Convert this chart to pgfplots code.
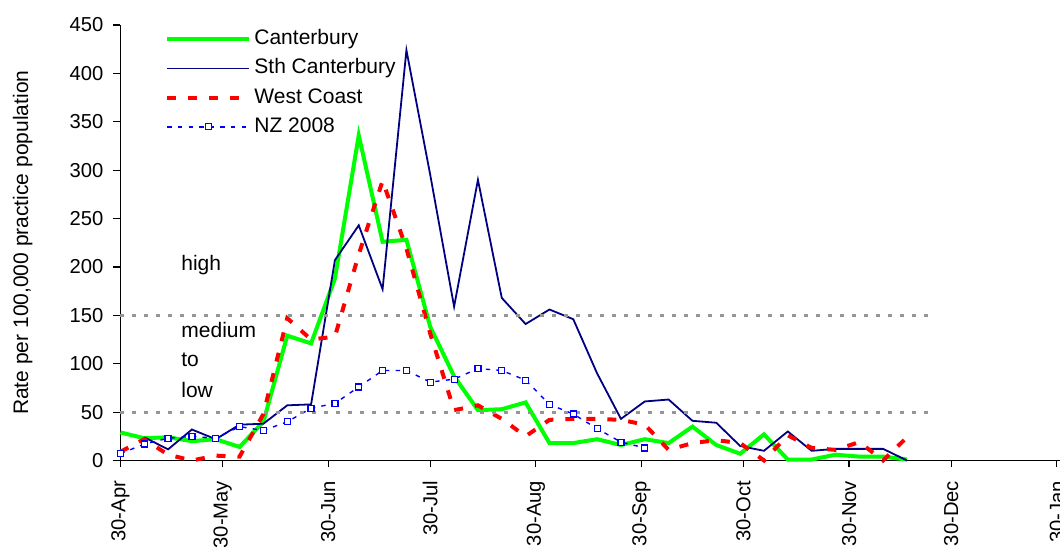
\documentclass[border=0pt]{standalone}
\usepackage{fontspec}
\setmainfont{Liberation Sans}
\usepackage{pgfplots}
\pgfplotsset{compat=1.18}
\definecolor{cgreen}{RGB}{0,255,0}
\definecolor{cnavy}{RGB}{0,0,128}
\definecolor{cred}{RGB}{255,0,0}
\definecolor{cblue}{RGB}{0,0,255}
\definecolor{cgray}{RGB}{150,150,150}
\begin{document}
\begin{tikzpicture}
\begin{axis}[
  scale only axis, width=469.9pt, height=217.75pt,
  xmin=0, xmax=276, ymin=0, ymax=450,
  axis x line=bottom, axis y line=left,
  axis line style={-, line width=0.6pt, black},
  tick align=outside, major tick length=3.5pt,
  tick style={black, line width=0.6pt},
  xtick={0,30,61,91,122,153,183,214,244,275},
  xticklabels={30-Apr,30-May,30-Jun,30-Jul,30-Aug,30-Sep,30-Oct,30-Nov,30-Dec,30-Jan},
  xticklabel style={rotate=90, anchor=east},
  xticklabel shift=3.2pt,
  yticklabel shift=1.5pt,
  ytick={0,50,...,450},
  font=\fontsize{10.5}{12.6}\selectfont,
  tick label style={font=\fontsize{10.1}{12}\selectfont},
  /pgf/number format/assume math mode=true,
  ylabel={Rate per 100,000 practice population},
  every axis y label/.style={at={(axis description cs:-0.104,0.5)}, rotate=90, anchor=center},
  clip=false,
  legend cell align=left,
  legend style={draw=none, fill=none, at={(axis cs:13.1,449)}, anchor=north west,
    inner sep=0pt, row sep=1.7pt, font=\fontsize{10.5}{12.6}\selectfont,
    nodes={inner sep=1.5pt, text height=7.7pt, text depth=2.2pt}},
  legend image code/.code={\draw[mark repeat=2,mark phase=2,#1] plot coordinates {(0pt,0pt) (20.5pt,0pt) (41pt,0pt)};},
]
\addplot[cgreen, line width=2pt, line join=miter] coordinates {
(0,29)(7,23)(14,24)(21,20)(28,22)(35,14)(42,40)(49,129)(56,121)(63,188)(70,336)(77,226)(84,228)(91,138)(98,87)(105,52)(112,53)(119,60)(126,18)(133,18)(140,22)(147,16)(154,22)(161,18)(168,35)(175,16)(182,7)(189,27)(196,1)(203,1)(210,6)(217,4)(224,4)(231,1)};
\addlegendentry{Canterbury}
\addplot[cnavy, line width=0.9pt] coordinates {
(7,24)(14,11.5)(21,32)(28,22)(35,37)(42,38)(49,57)(56,58)(63,207)(70,243)(77,177)(84,424)(91,295)(98,159)(105,290)(112,168)(119,141)(126,156)(133,146)(140,90)(147,43)(154,61)(161,63)(168,41)(175,39)(182,15)(189,10)(196,30)(203,10)(210,12)(217,12)(224,12)(231,0)};
\addlegendentry{Sth Canterbury}
\addplot[cred, line width=2pt, dash pattern=on 4.5pt off 6pt] coordinates {
(0,9)(7,22)(14,6)(21,0)(28,5)(35,4)(42,48)(49,147)(56,125)(63,128)(70,213)(77,289)(84,219)(91,131)(98,52)(105,57)(112,43)(119,25)(126,42)(133,43)(140,43)(147,42)(154,37)(161,11)(168,18)(175,21)(182,18)(189,0)(196,26)(203,13)(210,11)(217,19)(224,0)(231,24)};
\addlegendentry{West Coast}
\addplot[cblue, line width=0.7pt, dash pattern=on 2.2pt off 3.1pt, mark=square*, mark size=1.5pt,
  mark options={solid, fill=white, draw=cblue, line width=0.6pt}] coordinates {
(0,7)(7,17)(14,23)(21,25)(28,23)(35,35)(42,31)(49,40)(56,54)(63,59)(70,76)(77,93)(84,93)(91,81)(98,84)(105,95)(112,93)(119,83)(126,58)(133,48)(140,33)(147,19)(154,13)};
\addlegendentry{NZ 2008}
\addplot[cgray, line width=1.4pt, dash pattern=on 2pt off 4pt, forget plot] coordinates {(0,50)(238,50)};
\addplot[cgray, line width=1.4pt, dash pattern=on 2pt off 4pt, forget plot] coordinates {(0,150)(238,150)};
\node[anchor=base west, inner sep=0pt] at (axis cs:17.8,196.4) {high};
\node[anchor=base west, inner sep=0pt] at (axis cs:17.8,127.6) {medium};
\node[anchor=base west, inner sep=0pt] at (axis cs:17.8,96.7) {to};
\node[anchor=base west, inner sep=0pt] at (axis cs:17.8,65.2) {low};
\coordinate (bbsw) at (axis cs:-35.36,-92.48);
\coordinate (bbne) at (axis cs:275.94,475.83);
\end{axis}
\pgfresetboundingbox
\path[use as bounding box] (bbsw) rectangle (bbne);
\end{tikzpicture}
\end{document}
